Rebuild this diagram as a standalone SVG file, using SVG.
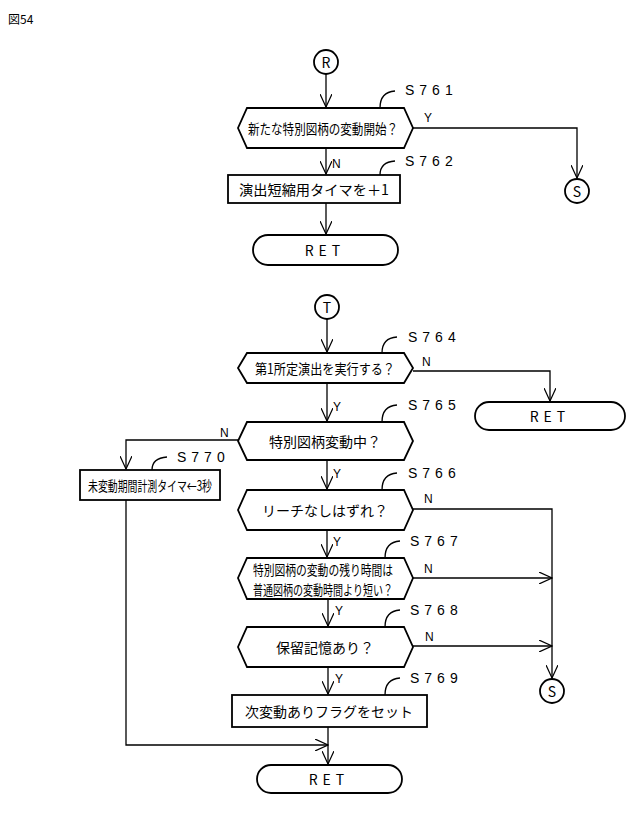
<svg xmlns="http://www.w3.org/2000/svg" width="640" height="813" viewBox="0 0 640 813">
<defs>
<marker id="a" markerWidth="14" markerHeight="12" refX="13" refY="6" orient="auto" markerUnits="userSpaceOnUse"><path d="M0,0 L13,6 L0,12" fill="none" stroke="#000" stroke-width="1.2"/></marker>
</defs>
<style>
.s{fill:#fff;stroke:#000;stroke-width:1.8}
.l{fill:none;stroke:#000;stroke-width:1.3}
text{font-family:"Noto Sans CJK JP","Liberation Sans",sans-serif;fill:#000}
.t{font-size:14px;text-anchor:middle;dominant-baseline:central}
.st{font-family:"Liberation Sans",sans-serif;font-size:14px;letter-spacing:5px}
.yn{font-family:"Liberation Sans",sans-serif;font-size:12px}
</style>
<rect width="640" height="813" fill="#fff"/>
<text x="8" y="24" font-size="12">図54</text>
<g id="connectors">
<path class="l" d="M326,74 V107" marker-end="url(#a)"/>
<path class="l" d="M412,128 H577 V178" marker-end="url(#a)"/>
<path class="l" d="M326,148 V174" marker-end="url(#a)"/>
<path class="l" d="M326,203 V234" marker-end="url(#a)"/>
<path class="l" d="M327,319 V352" marker-end="url(#a)"/>
<path class="l" d="M413,371 H550 V401" marker-end="url(#a)"/>
<path class="l" d="M327,383 V421" marker-end="url(#a)"/>
<path class="l" d="M238,440 H126 V469" marker-end="url(#a)"/>
<path class="l" d="M327,460 V489" marker-end="url(#a)"/>
<path class="l" d="M413,509 H552 V678" marker-end="url(#a)"/>
<path class="l" d="M327,530 V557" marker-end="url(#a)"/>
<path class="l" d="M413,578 H552" marker-end="url(#a)"/>
<path class="l" d="M328,599 V626" marker-end="url(#a)"/>
<path class="l" d="M413,646 H552" marker-end="url(#a)"/>
<path class="l" d="M328,667 V694" marker-end="url(#a)"/>
<path class="l" d="M328,727 V764" marker-end="url(#a)"/>
<path class="l" d="M126,500 V745 H328" marker-end="url(#a)"/>
<text class="yn" x="424" y="122">Y</text>
<text class="yn" x="332" y="168">N</text>
<text class="yn" x="422" y="366">N</text>
<text class="yn" x="333" y="411">Y</text>
<text class="yn" x="220" y="437">N</text>
<text class="yn" x="333" y="478">Y</text>
<text class="yn" x="424" y="503">N</text>
<text class="yn" x="333" y="546">Y</text>
<text class="yn" x="424" y="573">N</text>
<text class="yn" x="335" y="615">Y</text>
<text class="yn" x="425" y="641">N</text>
<text class="yn" x="335" y="683">Y</text>
</g>
<g id="R"><circle class="s" cx="326" cy="62" r="12"/><text class="t" x="326" y="62" font-family="Liberation Sans">R</text></g>
<g id="S761"><path class="s" d="M247,108 H404 L413,128 L404,148 H247 L238,128 Z"/><text class="t" x="323" y="128" font-size="13" textLength="150" lengthAdjust="spacingAndGlyphs">新たな特別図柄の変動開始？</text>
<path class="l" d="M380,108 Q380,92 395,91"/><text class="st" x="405" y="95">S761</text></g>
<g id="S_1"><circle class="s" cx="577" cy="191" r="12"/><text class="t" x="577" y="191" font-family="Liberation Sans">S</text></g>
<g id="S762"><rect class="s" x="228" y="175" width="172" height="28"/><text class="t" x="314" y="189" textLength="150" lengthAdjust="spacingAndGlyphs">演出短縮用タイマを＋1</text>
<path class="l" d="M380,175 Q380,162 395,161"/><text class="st" x="405" y="166">S762</text></g>
<g id="RET1"><rect class="s" x="253" y="235" width="145" height="30" rx="15"/><text class="t" x="325" y="250" font-family="Liberation Sans" letter-spacing="5">RET</text></g>
<g id="T"><circle class="s" cx="327" cy="307" r="12"/><text class="t" x="327" y="307" font-family="Liberation Sans">T</text></g>
<g id="S764"><path class="s" d="M247,353 H404 L413,368 L404,383 H247 L238,368 Z"/><text class="t" x="325" y="368" font-size="13" textLength="140" lengthAdjust="spacingAndGlyphs">第1所定演出を実行する？</text>
<path class="l" d="M382,353 Q382,338 397,337"/><text class="st" x="408" y="342">S764</text></g>
<g id="RET2"><rect class="s" x="475" y="402" width="150" height="28" rx="14"/><text class="t" x="550" y="416" font-family="Liberation Sans" letter-spacing="5">RET</text></g>
<g id="S765"><path class="s" d="M247,422 H404 L413,441 L404,460 H247 L238,441 Z"/><text class="t" x="325" y="441">特別図柄変動中？</text>
<path class="l" d="M382,422 Q382,406 397,405"/><text class="st" x="408" y="410">S765</text></g>
<g id="S770"><rect class="s" x="80" y="470" width="140" height="30"/><text class="t" x="150" y="485" font-size="13" textLength="124" lengthAdjust="spacingAndGlyphs">未変動期間計測タイマ←3秒</text>
<path class="l" d="M152,470 Q152,458 167,457"/><text class="st" x="177" y="462">S770</text></g>
<g id="S766"><path class="s" d="M247,490 H404 L413,510 L404,530 H247 L238,510 Z"/><text class="t" x="325" y="510">リーチなしはずれ？</text>
<path class="l" d="M382,490 Q382,474 397,473"/><text class="st" x="408" y="478">S766</text></g>
<g id="S767"><path class="s" d="M247,558 H404 L413,578 L404,599 H247 L238,578 Z"/><text class="t" x="323" y="569" font-size="12" textLength="140" lengthAdjust="spacingAndGlyphs">特別図柄の変動の残り時間は</text><text class="t" x="323" y="589" font-size="12" textLength="140" lengthAdjust="spacingAndGlyphs">普通図柄の変動時間より短い？</text>
<path class="l" d="M385,558 Q385,542 400,541"/><text class="st" x="410" y="546">S767</text></g>
<g id="S768"><path class="s" d="M247,627 H404 L413,647 L404,667 H247 L238,647 Z"/><text class="t" x="325" y="647">保留記憶あり？</text>
<path class="l" d="M385,627 Q385,611 400,610"/><text class="st" x="410" y="615">S768</text></g>
<g id="S_2"><circle class="s" cx="552" cy="691" r="12"/><text class="t" x="552" y="691" font-family="Liberation Sans">S</text></g>
<g id="S769"><rect class="s" x="232" y="695" width="195" height="32"/><text class="t" x="329" y="711">次変動ありフラグをセット</text>
<path class="l" d="M385,695 Q385,679 400,678"/><text class="st" x="410" y="683">S769</text></g>
<g id="RET3"><rect class="s" x="257" y="765" width="145" height="28" rx="14"/><text class="t" x="329" y="779" font-family="Liberation Sans" letter-spacing="5">RET</text></g>
</svg>
